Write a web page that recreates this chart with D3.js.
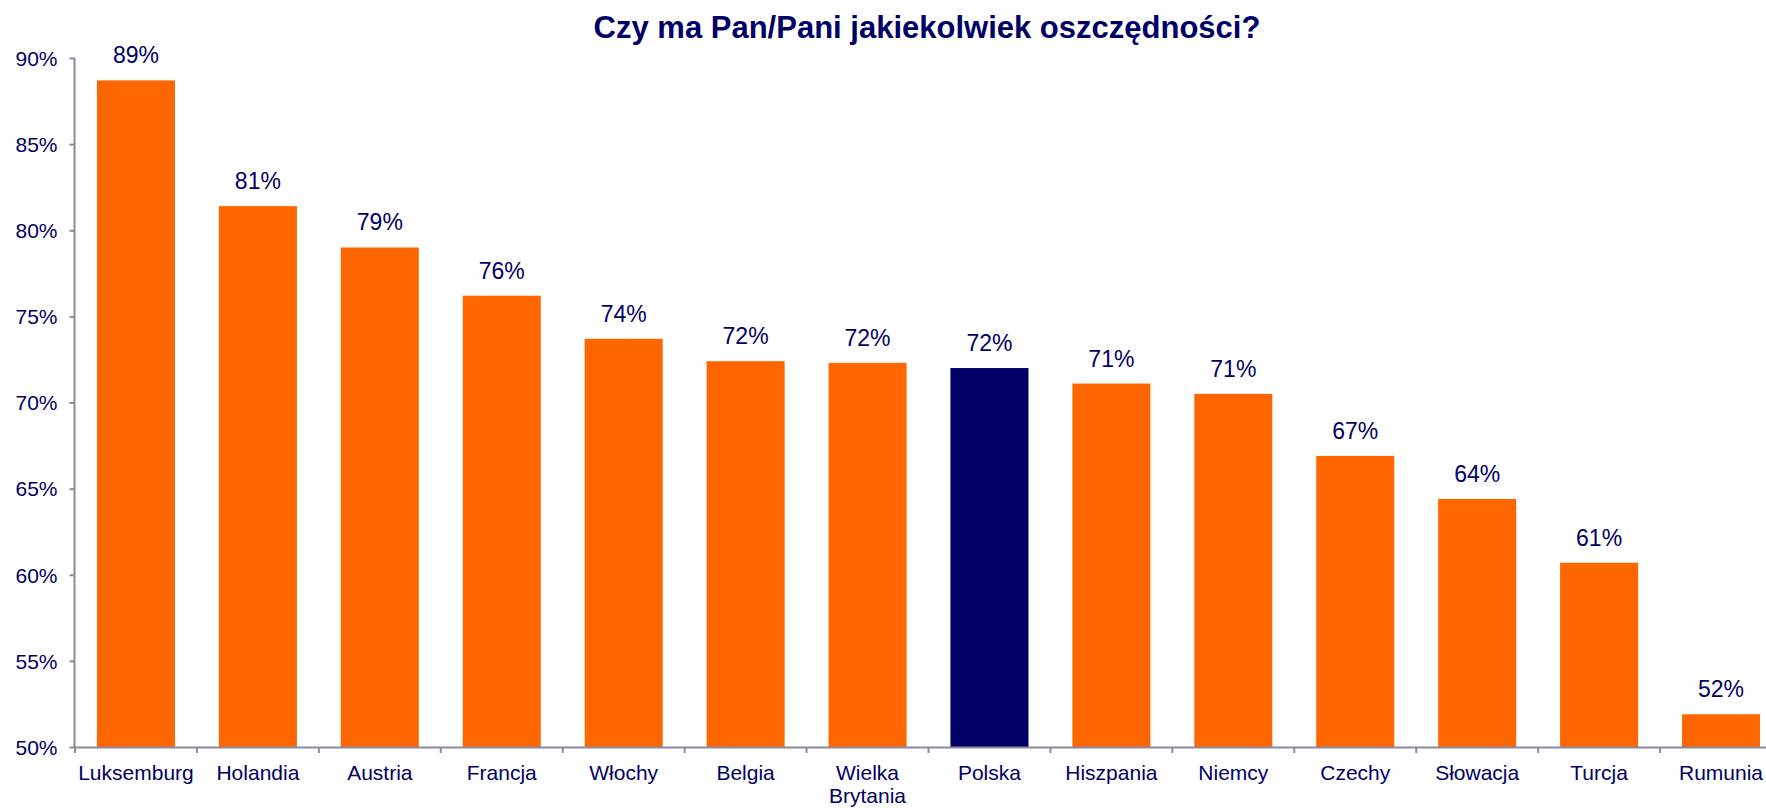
<!DOCTYPE html>
<html>
<head>
<meta charset="utf-8">
<script src="https://cdn.jsdelivr.net/npm/d3@7"></script>
<style>
  body { margin: 0; background: #fff; }
  text { font-family: "Liberation Sans", Arial, sans-serif; fill: #000066; }
</style>
</head>
<body>
<div id="chart"></div>
<script>
// Czy ma Pan/Pani jakiekolwiek oszczednosci - bar chart

var countries = ["Luksemburg", "Holandia", "Austria", "Francja", "Włochy", "Belgia",
                 "Wielka Brytania", "Polska", "Hiszpania", "Niemcy", "Czechy",
                 "Słowacja", "Turcja", "Rumunia"];
var shares = [88.7, 81.4, 79.0, 76.2, 73.7, 72.4, 72.3, 72.0, 71.1, 70.5, 66.9, 64.4, 60.7, 51.9];
var yTicks = [50, 55, 60, 65, 70, 75, 80, 85, 90];
var highlight = "Polska";
var title = "Czy ma Pan/Pani jakiekolwiek oszczędności?";

var width = 1766, height = 808;

var svg = d3.select("#chart").append("svg")
    .attr("width", width)
    .attr("height", height);

var x = d3.scaleBand()
    .domain(countries)
    .range([75, 1782])
    .paddingInner(0.36)
    .paddingOuter(0.18);

var y = d3.scaleLinear()
    .domain([50, 90])
    .range([747, 58]);

// title
svg.append("text")
    .attr("x", 927)
    .attr("y", 38)
    .attr("text-anchor", "middle")
    .style("font-size", "31px")
    .style("font-weight", "bold")
    .text(title);

// bars
svg.selectAll(".bar").data(countries).enter().append("rect")
    .attr("class", "bar")
    .attr("x", function (d) { return x(d); })
    .attr("width", x.bandwidth())
    .attr("y", function (d, i) { return y(shares[i]); })
    .attr("height", function (d, i) { return y(50) - y(shares[i]); })
    .style("fill", function (d) { return d == highlight ? "#000066" : "#ff6600"; });

// value labels
svg.selectAll(".val").data(countries).enter().append("text")
    .attr("class", "val")
    .attr("x", function (d) { return x(d) + x.bandwidth() / 2; })
    .attr("y", function (d, i) { return y(shares[i]) - 17; })
    .attr("text-anchor", "middle")
    .style("font-size", "23px")
    .text(function (d, i) { return Math.round(shares[i]) + "%"; });

// y axis
var yAxis = svg.append("g")
    .attr("transform", "translate(74.5,0)")
    .call(d3.axisLeft(y).tickValues(yTicks).tickSize(5).tickPadding(12)
        .tickFormat(function (d) { return d + "%"; }));
yAxis.select(".domain").attr("stroke", "#8a8a9e").attr("stroke-width", 2).attr("d", "M0,58V747");
yAxis.selectAll(".tick line").attr("stroke", "#8a8a9e").attr("stroke-width", 2);
yAxis.selectAll(".tick text").style("font-size", "21px").attr("dy", "0.35em")
    .style("font-family", "Liberation Sans, Arial, sans-serif").attr("fill", "#000066");

// x axis: line plus ticks at band edges
svg.append("line")
    .attr("x1", 74).attr("x2", width)
    .attr("y1", 747.5).attr("y2", 747.5)
    .attr("stroke", "#8a8a9e").attr("stroke-width", 2);

svg.selectAll(".xtick").data(countries).enter().append("line")
    .attr("class", "xtick")
    .attr("x1", function (d) { return x(d) - x.step() * x.paddingInner() / 2; })
    .attr("x2", function (d) { return x(d) - x.step() * x.paddingInner() / 2; })
    .attr("y1", 747).attr("y2", 753)
    .attr("stroke", "#8a8a9e").attr("stroke-width", 2);

// category labels, wrapped if wider than a band
svg.selectAll(".cat").data(countries).enter().append("text")
    .attr("class", "cat")
    .attr("x", function (d) { return x(d) + x.bandwidth() / 2; })
    .attr("y", 780)
    .attr("text-anchor", "middle")
    .style("font-size", "21px")
    .text(function (d) { return d; })
    .each(function (d) {
      var t = d3.select(this);
      if (this.getComputedTextLength() > x.step() - 8) {
        var words = d.split(" ");
        t.text(null);
        words.forEach(function (w, i) {
          t.append("tspan")
            .attr("x", x(d) + x.bandwidth() / 2)
            .attr("dy", i ? 23 : 0)
            .text(w);
        });
      }
    });
</script>
</body>
</html>
